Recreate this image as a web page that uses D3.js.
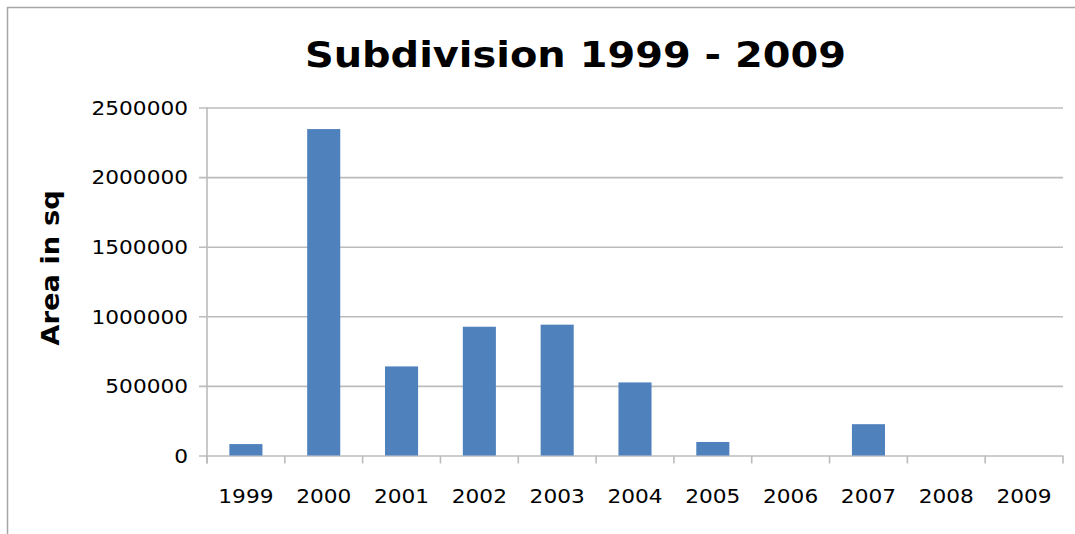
<!DOCTYPE html>
<html>
<head>
<meta charset="utf-8">
<script src="https://cdn.jsdelivr.net/npm/d3@7"></script>
<style>
  html, body { margin: 0; padding: 0; background: #fff; }
  svg { display: block; }
</style>
</head>
<body>
<svg id="chart" width="1075" height="534"></svg>
<script>
// Subdivision area per year
const years = ["1999", "2000", "2001", "2002", "2003", "2004", "2005", "2006", "2007", "2008", "2009"];
const areas = [82000, 2345000, 640000, 925000, 940000, 525000, 97000, 0, 225000, 0, 0];
const yTicks = [0, 500000, 1000000, 1500000, 2000000, 2500000];
const titleText = "Subdivision 1999 - 2009";
const yTitleText = "Area in sq";

const svg = d3.select("#chart");
const W = 1075, H = 534;
const plot = { left: 207, right: 1063, top: 107.5, bottom: 455.5 };
const gridColor = "#bcbcbc";
const barColor = "#4f81bd";
const font = "'DejaVu Sans', Verdana, sans-serif";
const widen = 1.14; // text is set slightly wide

function stretch(sel) {
  sel.each(function () {
    const len = this.getComputedTextLength();
    d3.select(this).attr("textLength", len * widen).attr("lengthAdjust", "spacingAndGlyphs");
  });
}

// outer frame
svg.append("path")
  .attr("d", `M7.5,${H + 5} V7.5 H${W + 5}`)
  .attr("fill", "none")
  .attr("stroke", "#a6a6a6")
  .attr("stroke-width", 1.5);

const x = d3.scaleBand()
  .domain(years)
  .range([plot.left, plot.right])
  .paddingInner(0.575)
  .paddingOuter(0.2875);

const y = d3.scaleLinear()
  .domain([0, 2500000])
  .range([plot.bottom, plot.top]);

// horizontal gridlines with left ticks
const yAxis = d3.axisLeft(y)
  .tickValues(yTicks)
  .tickSize(-(plot.right - plot.left))
  .tickPadding(0)
  .tickFormat(d3.format("d"));

const gy = svg.append("g")
  .attr("transform", `translate(${plot.left},0)`)
  .call(yAxis);
gy.select(".domain").remove();
gy.selectAll(".tick line")
  .attr("stroke", gridColor)
  .attr("stroke-width", 1.6)
  .attr("x1", -8);
gy.selectAll(".tick text")
  .attr("x", -19)
  .attr("dy", "0.36em")
  .attr("fill", "#000")
  .style("font-family", font)
  .style("font-size", "19px")
  .attr("text-anchor", "end")
  .call(stretch);

// vertical axis line
svg.append("line")
  .attr("x1", plot.left).attr("x2", plot.left)
  .attr("y1", plot.top).attr("y2", plot.bottom + 8)
  .attr("stroke", gridColor)
  .attr("stroke-width", 1.6);

// bars
svg.append("g")
  .selectAll("rect")
  .data(years.map((yr, i) => ({ yr, v: areas[i] })))
  .join("rect")
  .attr("x", d => x(d.yr))
  .attr("width", x.bandwidth())
  .attr("y", d => y(d.v))
  .attr("height", d => y(0) - y(d.v))
  .attr("fill", barColor);

// category boundary ticks on the baseline
const step = x.step();
const gx = svg.append("g");
gx.selectAll("line.cat")
  .data(d3.range(years.length + 1))
  .join("line")
  .attr("class", "cat")
  .attr("x1", i => plot.left + i * step)
  .attr("x2", i => plot.left + i * step)
  .attr("y1", plot.bottom)
  .attr("y2", plot.bottom + 8)
  .attr("stroke", gridColor)
  .attr("stroke-width", 1.6);

// category labels
gx.selectAll("text")
  .data(years)
  .join("text")
  .attr("x", d => x(d) + x.bandwidth() / 2)
  .attr("y", 503)
  .attr("text-anchor", "middle")
  .style("font-family", font)
  .style("font-size", "19px")
  .attr("fill", "#000")
  .text(d => d)
  .call(stretch);

// title
svg.append("text")
  .attr("x", 575.5)
  .attr("y", 67)
  .attr("text-anchor", "middle")
  .style("font-family", font)
  .style("font-size", "35px")
  .style("font-weight", "bold")
  .attr("fill", "#000")
  .text(titleText)
  .call(stretch);

// y axis title
svg.append("text")
  .attr("transform", "translate(59,268) rotate(-90)")
  .attr("text-anchor", "middle")
  .style("font-family", font)
  .style("font-size", "24px")
  .style("font-weight", "bold")
  .attr("fill", "#000")
  .text(yTitleText)
  .call(stretch);
</script>
</body>
</html>
